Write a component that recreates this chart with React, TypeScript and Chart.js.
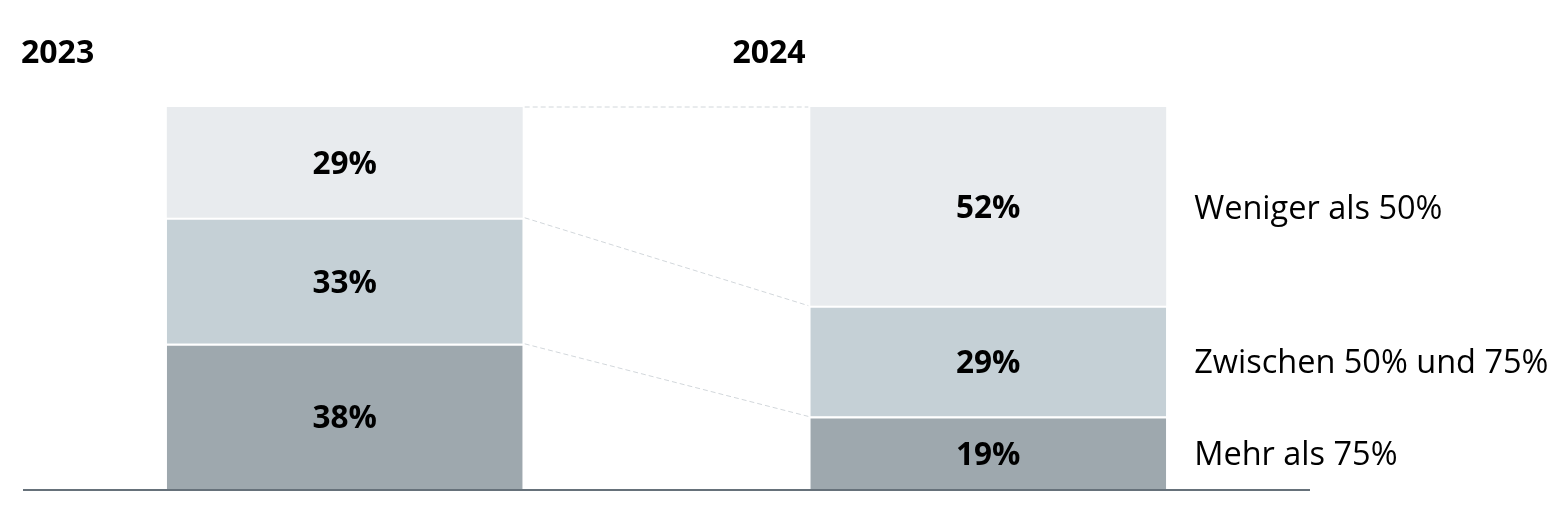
import React, { useEffect, useRef } from "react";
import { Chart, registerables } from "chart.js";

Chart.register(...registerables);

const years = ["2023", "2024"];
const seriesNames = ["Mehr als 75%", "Zwischen 50% und 75%", "Weniger als 50%"];
const mehrAls75 = [38, 19];
const zwischen50und75 = [33, 29];
const wenigerAls50 = [29, 52];
const seriesColors = ["#9ea8ae", "#c5d0d6", "#e8ebee"];

const FONT = "'Open Sans', 'Noto Sans', sans-serif";

const overlayPlugin = {
  id: "overlay",
  afterDatasetsDraw(chart: any) {
    const ctx = chart.ctx;
    const area = chart.chartArea;
    ctx.save();
    // connectors
    chart.data.datasets.forEach((_: any, i: number) => {
      const meta = chart.getDatasetMeta(i);
      const b0 = meta.data[0];
      const b1 = meta.data[1];
      if (!b0 || !b1) return;
      const w0 = b0.width / 2;
      const w1 = b1.width / 2;
      ctx.beginPath();
      ctx.setLineDash([5, 3]);
      ctx.strokeStyle = "#d2d7db";
      ctx.lineWidth = 1;
      ctx.moveTo(b0.x + w0 + 2, b0.y);
      ctx.lineTo(b1.x - w1 - 2, b1.y);
      ctx.stroke();
    });
    ctx.setLineDash([]);
    // value labels
    ctx.fillStyle = "#000";
    ctx.textAlign = "center";
    ctx.textBaseline = "middle";
    ctx.font = `bold 31.5px ${FONT}`;
    chart.data.datasets.forEach((ds: any, i: number) => {
      const meta = chart.getDatasetMeta(i);
      meta.data.forEach((bar: any, j: number) => {
        const cy = (bar.y + bar.base) / 2;
        ctx.fillText(ds.data[j] + "%", bar.x, cy + 3);
      });
    });
    // right labels
    ctx.textAlign = "left";
    ctx.font = `32.5px ${FONT}`;
    chart.data.datasets.forEach((ds: any, i: number) => {
      const meta = chart.getDatasetMeta(i);
      const bar = meta.data[1];
      const cy = (bar.y + bar.base) / 2;
      ctx.fillText(ds.label, bar.x + bar.width / 2 + 28, cy + 3);
    });
    // titles
    ctx.font = `bold 32px ${FONT}`;
    ctx.textAlign = "left";
    ctx.fillText(years[0], 13, 46);
    ctx.textAlign = "center";
    ctx.fillText(years[1], 761, 46);
    // baseline
    ctx.fillStyle = "#66717a";
    ctx.fillRect(area.left, area.bottom, area.right - area.left, 2);
    ctx.restore();
  },
};

export default function App() {
  const ref = useRef<HTMLCanvasElement>(null);
  useEffect(() => {
    if (!ref.current) return;
    const values = [mehrAls75, zwischen50und75, wenigerAls50];
    const chart = new Chart(ref.current, {
      type: "bar",
      data: {
        labels: years,
        datasets: seriesNames.map((name, i) => ({
          label: name,
          data: values[i],
          backgroundColor: seriesColors[i],
          borderColor: "#ffffff",
          borderWidth: i === 2 ? 0 : { top: 2, bottom: 0, left: 0, right: 0 },
          borderSkipped: false,
          categoryPercentage: 1,
          barPercentage: 0.553,
        })),
      },
      options: {
        animation: false,
        responsive: true,
        maintainAspectRatio: false,
        layout: { padding: { left: 15, right: 250, top: 99, bottom: 21 } },
        plugins: {
          legend: { display: false },
          tooltip: { enabled: false },
          title: { display: false },
        },
        scales: {
          x: { stacked: true, display: false, offset: true },
          y: { stacked: true, display: false, min: 0, max: 100 },
        },
      },
      plugins: [overlayPlugin],
    });
    return () => chart.destroy();
  }, []);
  return (
    <div style={{ width: "100%", height: 502, position: "relative" }}>
      <canvas ref={ref} />
    </div>
  );
}
